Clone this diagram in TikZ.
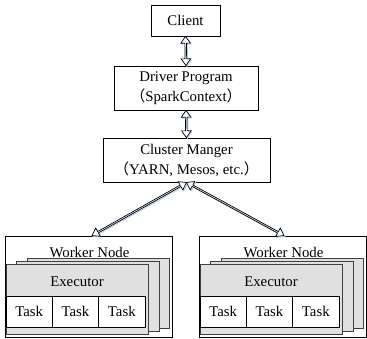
\documentclass[tikz,border=0pt]{standalone}
\usepackage{fontspec}
\setmainfont{Liberation Serif}
\newfontfamily\cjkfont{Noto Sans CJK SC}
\usetikzlibrary{shapes.arrows,calc,shadows}
\newcommand{\fwlp}{{\cjkfont （}}
\newcommand{\fwrp}{{\cjkfont ）}}
\definecolor{shadowblue}{HTML}{A8C8EC}
\begin{document}
\begin{tikzpicture}[x=1pt,y=-1pt,
  font=\fontsize{14.8}{20}\selectfont,
  box/.style={draw=black, line width=0.8pt, fill=white, inner sep=0pt, align=center},
  layer/.style={draw=black!75, line width=0.8pt, fill=black!12, inner sep=0pt,
    minimum width=142.5pt, minimum height=70pt},
  cell/.style={draw=black, line width=0.8pt, fill=white, inner sep=0pt,
    minimum width=46.33pt, minimum height=31pt},
  txt/.style={inner sep=0pt},
  dblarrow/.style={double arrow, draw=black, fill=white, line width=0.7pt, inner sep=0pt,
    minimum width=9.5pt, double arrow head extend=1.8pt, double arrow tip angle=70,
    copy shadow={shadow xshift=0.9pt, shadow yshift=-0.9pt, draw=shadowblue, fill=white}}
]
\useasboundingbox (0,0) rectangle (367,338);

\node[box, minimum width=69pt, minimum height=31pt] (client) at (185.5,20.5) {Client};
\node[box, minimum width=144pt, minimum height=44pt] (driver) at (186,88)
  {Driver Program\\\fwlp SparkContext\fwrp};
\node[box, minimum width=167pt, minimum height=44pt] (cluster) at (186.5,160)
  {Cluster Manger\\\fwlp YARN, Mesos, etc.\fwrp};

\foreach \i/\dx in {1/0,2/194}{
  \node[box, minimum width=167pt, minimum height=101pt] (w\i) at (89+\dx,286.5) {};
  \node[txt] (w\i t) at (89.5+\dx,252) {Worker Node};
  \node[layer] (w\i c) at (98.25+\dx,293.5) {};
  \node[layer] (w\i b) at (87.75+\dx,296.5) {};
  \node[layer] (w\i a) at (77.25+\dx,299.5) {};
  \node[txt] (w\i e) at (77+\dx,282) {Executor};
  \node[cell] (w\i x) at (29.17+\dx,311.5) {Task};
  \node[cell] (w\i y) at (75.5+\dx,311.5) {Task};
  \node[cell] (w\i z) at (121.83+\dx,311.5) {Task};
}

\path let \p1=(client.south), \p2=(driver.north), \n1={veclen(\x2-\x1,\y2-\y1)} in
  (\p1) -- (\p2) node[midway, sloped, dblarrow, minimum height=\n1] (a1) {};
\path let \p1=(driver.south), \p2=(cluster.north), \n1={veclen(\x2-\x1,\y2-\y1)} in
  (\p1) -- (\p2) node[midway, sloped, dblarrow, minimum height=\n1] (a2) {};
\path let \p1=(cluster.south), \p2=([xshift=3pt]w1.north), \n1={veclen(\x2-\x1,\y2-\y1)} in
  (\p1) -- (\p2) node[midway, sloped, dblarrow, minimum height=\n1] (a3) {};
\path let \p1=(cluster.south), \p2=([xshift=1pt]w2.north), \n1={veclen(\x2-\x1,\y2-\y1)} in
  (\p1) -- (\p2) node[midway, sloped, dblarrow, minimum height=\n1] (a4) {};
\end{tikzpicture}
\end{document}
